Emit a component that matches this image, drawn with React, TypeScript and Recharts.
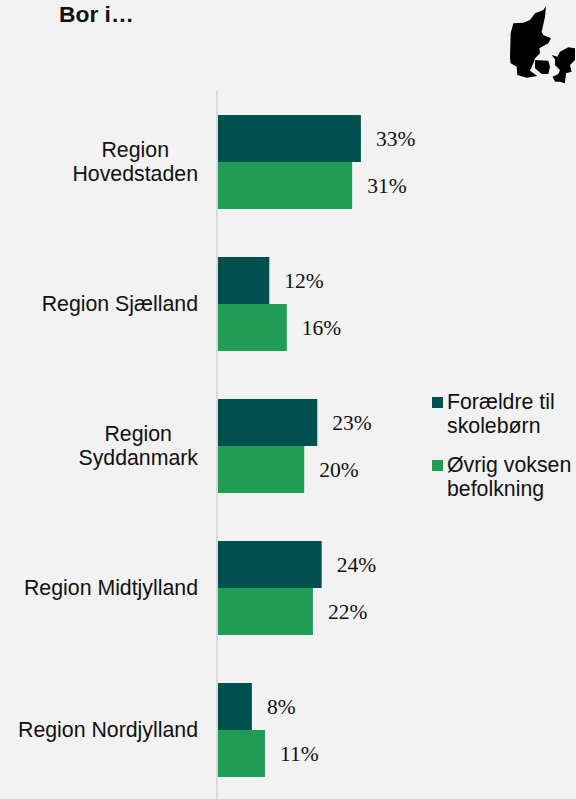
import { BarChart, Bar, XAxis, YAxis, LabelList, Legend } from "recharts";

const regions = [
  "Region\nHovedstaden",
  "Region Sjælland",
  "Region\nSyddanmark",
  "Region Midtjylland",
  "Region Nordjylland",
];
const parents = [33, 12, 23, 24, 8];
const others = [31, 16, 20, 22, 11];
const seriesNames = ["Forældre til\nskolebørn", "Øvrig voksen\nbefolkning"];

const DARK = "#00504f";
const GREEN = "#219c55";
const SANS = "'Liberation Sans', Arial, sans-serif";
const SERIF = "'Liberation Serif', 'Times New Roman', serif";
const TEXT_SIZE = 21.3;

const data = regions.map((region, i) => ({
  region,
  parents: parents[i],
  others: others[i],
}));

const measure = (text: string) => {
  const ctx = document.createElement("canvas").getContext("2d")!;
  ctx.font = `${TEXT_SIZE}px ${SANS}`;
  return ctx.measureText(text).width;
};

// multi-line labels are centred on each other, the block is right aligned
function RegionTick({ x, y, payload }: any) {
  const lines: string[] = payload.value.split("\n");
  const right = x - 11;
  if (lines.length === 1) {
    return (
      <text x={right} y={y + 7} textAnchor="end" fontFamily={SANS} fontSize={TEXT_SIZE} fill="#111">
        {lines[0]}
      </text>
    );
  }
  const widest = Math.max(...lines.map(measure));
  return (
    <text textAnchor="middle" fontFamily={SANS} fontSize={TEXT_SIZE} fill="#111">
      {lines.map((line, i) => (
        <tspan key={line} x={right - widest / 2} y={y - 5 + i * 24}>
          {line}
        </tspan>
      ))}
    </text>
  );
}

function LegendBox() {
  return (
    <div style={{ fontFamily: SANS, fontSize: TEXT_SIZE, lineHeight: "24px", color: "#111" }}>
      {seriesNames.map((name, i) => (
        <div key={name} style={{ display: "flex", marginBottom: 15 }}>
          <span
            style={{
              width: 11,
              height: 11,
              marginTop: 7,
              marginRight: 4,
              flexShrink: 0,
              background: i === 0 ? DARK : GREEN,
            }}
          />
          <span style={{ whiteSpace: "pre" }}>{name}</span>
        </div>
      ))}
    </div>
  );
}

export default function App() {
  return (
    <div
      style={{
        position: "absolute",
        left: 0,
        top: 0,
        width: 576,
        height: 799,
        overflow: "hidden",
        background: "#f2f2f2",
      }}
    >
      <div
        style={{
          position: "absolute",
          left: 59,
          top: 1,
          fontFamily: SANS,
          fontWeight: 700,
          fontSize: 22.8,
          color: "#111",
        }}
      >
        Bor i…
      </div>
      <svg
        viewBox="0 0 288 300"
        width={96}
        height={100}
        style={{ position: "absolute", left: 480, top: 0 }}
      >
        <path
          fill="#000"
          d="M198 18L190 30L165 40L150 60L130 68L100 70L92 100L90 175L92 190L110 200L112 225L140 233L172 228L150 212L160 190L165 175L180 160L178 145L205 130L213 115L190 105L185 95L195 50Z"
        />
        <path fill="#000" d="M165 180L205 182L210 200L205 222L185 222L165 205Z" />
        <path
          fill="#000"
          d="M215 165L232 170L240 155L265 142L285 145L285 180L270 195L275 215L258 220L255 250L240 245L225 245L218 230L235 222L240 210L225 195L225 178Z"
        />
      </svg>
      <BarChart
        width={576}
        height={802}
        data={data}
        layout="vertical"
        barSize={47}
        barGap={0}
        margin={{ top: 91, right: 0, bottom: 1, left: 0 }}
        style={{ position: "absolute", left: 0, top: 0 }}
      >
        <XAxis type="number" domain={[0, 50]} hide />
        <YAxis
          type="category"
          dataKey="region"
          width={217}
          interval={0}
          tickLine={false}
          axisLine={{ stroke: "#d9d9d9", strokeWidth: 2 }}
          tick={<RegionTick />}
        />
        <Legend
          layout="vertical"
          align="right"
          verticalAlign="middle"
          content={<LegendBox />}
          wrapperStyle={{ position: "absolute", left: 432, top: 390, width: 141 }}
        />
        <Bar dataKey="parents" fill={DARK} isAnimationActive={false}>
          <LabelList
            dataKey="parents"
            position="right"
            offset={15}
            formatter={(v: any) => `${v}%`}
            style={{ fontFamily: SERIF, fontSize: 21.5, fill: "#111" }}
          />
        </Bar>
        <Bar dataKey="others" fill={GREEN} isAnimationActive={false}>
          <LabelList
            dataKey="others"
            position="right"
            offset={15}
            formatter={(v: any) => `${v}%`}
            style={{ fontFamily: SERIF, fontSize: 21.5, fill: "#111" }}
          />
        </Bar>
      </BarChart>
    </div>
  );
}
